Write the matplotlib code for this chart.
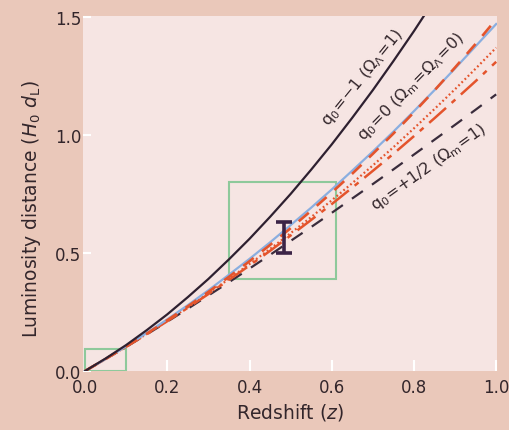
import matplotlib
matplotlib.use("Agg")
import matplotlib.pyplot as plt
from matplotlib.patches import Rectangle

plt.rcParams['font.family'] = ['DejaVu Sans']
plt.rcParams['mathtext.default'] = 'regular'

# redshift grid
z = [0.0, 0.05, 0.1, 0.15, 0.2, 0.25, 0.3, 0.35, 0.4, 0.45, 0.5,
     0.55, 0.6, 0.65, 0.7, 0.75, 0.8, 0.85, 0.9, 0.95, 1.0]

# q0 = -1 (Omega_Lambda = 1), leaves the top near z = 0.82
d_lambda = [0.0, 0.053, 0.11, 0.173, 0.24, 0.313, 0.39, 0.473, 0.56, 0.653, 0.75,
            0.853, 0.96, 1.073, 1.19, 1.313, 1.44, 1.573]
# q0 = 0 (empty)
d_empty = [0.0, 0.051, 0.105, 0.161, 0.219, 0.279, 0.342, 0.408, 0.475, 0.545, 0.618,
           0.692, 0.769, 0.849, 0.930, 1.014, 1.101, 1.190, 1.282, 1.376, 1.47]
# red curves
d_red_dash = [0.0, 0.051, 0.104, 0.158, 0.215, 0.274, 0.335, 0.399, 0.465, 0.534, 0.605,
              0.679, 0.756, 0.836, 0.920, 1.006, 1.096, 1.189, 1.286, 1.386, 1.49]
d_red_dot = [0.0, 0.051, 0.103, 0.157, 0.213, 0.270, 0.329, 0.390, 0.453, 0.517, 0.584,
             0.652, 0.723, 0.796, 0.871, 0.948, 1.028, 1.110, 1.194, 1.281, 1.37]
d_red_dashdot = [0.0, 0.051, 0.103, 0.156, 0.211, 0.268, 0.326, 0.386, 0.447, 0.509, 0.574,
                 0.640, 0.707, 0.777, 0.848, 0.920, 0.995, 1.071, 1.149, 1.228, 1.31]
# q0 = +1/2 (Omega_m = 1)
d_matter = [0.0, 0.051, 0.102, 0.155, 0.209, 0.264, 0.320, 0.376, 0.434, 0.492, 0.551,
            0.610, 0.670, 0.731, 0.792, 0.854, 0.917, 0.980, 1.043, 1.107, 1.172]

# supernova point with error bar
sn_z = 0.483
sn_d = 0.565
sn_err = 0.065

# green boxes: (z0, d0, z1, d1)
box_near = (0.0, 0.0, 0.1, 0.095)
box_far = (0.35, 0.39, 0.61, 0.80)

outer_bg = '#eac8ba'
inner_bg = '#f6e5e3'
ink = '#33262b'
red = '#e4542c'
blue = '#8aaee0'
green = '#8ec99b'

fig = plt.figure(figsize=(5.1, 4.31), dpi=100, facecolor=outer_bg)
ax = fig.add_axes([83 / 510, 1 - 372 / 431, 414 / 510, 355 / 431])
ax.set_facecolor(inner_bg)

ax.plot(z, d_matter, color='#3a2c3c', lw=1.6, dashes=(6, 5), zorder=3)
ax.plot(z, d_red_dashdot, color=red, lw=1.8, dashes=(9, 3, 2, 3), zorder=3)
ax.plot(z, d_red_dot, color=red, lw=1.6, dashes=(0.8, 1.2), zorder=3)
ax.plot(z, d_empty, color=blue, lw=1.6, zorder=3)
ax.plot(z, d_red_dash, color=red, lw=1.9, dashes=(5, 4), zorder=4)
ax.plot(z[:len(d_lambda)], d_lambda, color='#2e2030', lw=1.6, zorder=5)

for b in (box_near, box_far):
    ax.add_patch(Rectangle((b[0], b[1]), b[2] - b[0], b[3] - b[1], fill=False,
                           edgecolor=green, lw=1.5, zorder=2))

ax.errorbar([sn_z], [sn_d], yerr=[sn_err], fmt='none', ecolor='#3b2346',
            elinewidth=2.6, capsize=6, capthick=2.6, zorder=6)

ax.text(0.674, 1.246, r'$q_0\!=\!{-}1\ (\Omega_\Lambda\!=\!1)$', rotation=51,
        rotation_mode='anchor', ha='center', va='center', fontsize=11.5, color=ink)
ax.text(0.793, 1.208, r'$q_0\!=\!0\ (\Omega_m\!=\!\Omega_\Lambda\!=\!0)$', rotation=45.5,
        rotation_mode='anchor', ha='center', va='center', fontsize=11.5, color=ink)
ax.text(0.835, 0.868, r'$q_0\!=\!{+}1/2\ (\Omega_m\!=\!1)$', rotation=35.5,
        rotation_mode='anchor', ha='center', va='center', fontsize=11.5, color=ink)

ax.set_xlim(-0.005, 1.002)
ax.set_ylim(0, 1.504)
ax.set_xticks([0.0, 0.2, 0.4, 0.6, 0.8, 1.0])
ax.set_yticks([0.0, 0.5, 1.0, 1.5])
ax.set_xticklabels(['0.0', '0.2', '0.4', '0.6', '0.8', '1.0'])
ax.set_yticklabels(['0.0', '0.5', '1.0', '1.5'])
for s in ax.spines.values():
    s.set_visible(False)
ax.tick_params(axis='x', direction='in', length=8, width=1.5, color='white',
               labelsize=12, labelcolor=ink, pad=5)
ax.tick_params(axis='y', direction='in', length=6, width=1.5, color='white',
               labelsize=12, labelcolor=ink, pad=1)

ax.set_xlabel(r'Redshift ($\mathit{z}$)', fontsize=13.5, color=ink, labelpad=4)
ax.set_ylabel(r'Luminosity distance ($\mathit{H}_0\ \mathit{d}_\mathrm{L}$)',
              fontsize=13.5, color=ink)
ax.yaxis.set_label_coords(-0.097, 0.46)

fig.savefig('out.png', dpi=100, facecolor=outer_bg)
